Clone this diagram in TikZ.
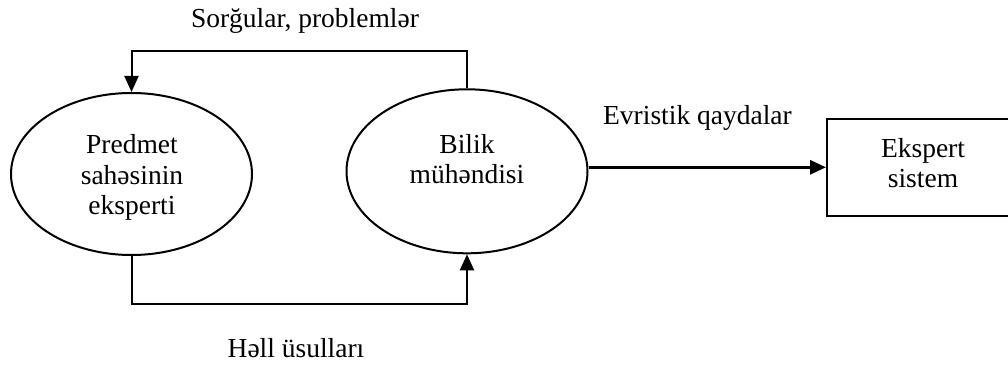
\documentclass[tikz,border=0pt]{standalone}
\usepackage{fontspec}
\setmainfont{Liberation Serif}
\usetikzlibrary{arrows.meta,shapes.geometric}
\begin{document}
\begin{tikzpicture}[x=0.5pt,y=-0.5pt,
  every node/.style={font=\fontsize{13.75pt}{15.25pt}\selectfont},
  oval/.style={ellipse,draw,line width=1pt,inner sep=0pt,minimum width=120.5pt},
  box/.style={rectangle,draw,line width=1pt,inner sep=0pt,minimum width=94pt,minimum height=48.5pt},
  txt/.style={align=center,inner sep=0pt},
  lbl/.style={anchor=base,inner sep=0pt},
  link/.style={line width=1pt},
  arr/.style={line width=1pt,-{Triangle[length=8pt,width=7pt]}}]
\useasboundingbox (0,0) rectangle (1008,369);
% shapes
\node[oval,minimum height=81pt] (e1) at (131.5,174) {};
\node[oval,minimum height=82pt] (e2) at (467,171.3) {};
\node[box] (es) at (921,167.3) {};
% texts
\node[txt] (t1) at (132,177.6) {Predmet\\sahəsinin\\eksperti};
\node[txt] (t2) at (467,159.3) {Bilik\\mühəndisi};
\node[txt] (t3) at (923,163) {Ekspert\\sistem};
\node[lbl] (l1) at (305,27.3) {Sorğular, problemlər};
\node[lbl] (l2) at (697.5,125) {Evristik qaydalar};
\node[lbl] (l3) at (296,357.3) {Həll üsulları};
% connectors
\draw[arr] (e2.north) -- ++(0,-37) -| (e1.north);
\draw[arr] (e1.south) -- ++(0,48) -| (e2.south);
\draw[arr,line width=1.5pt] (e2.east |- es.west) -- (es.west);
\end{tikzpicture}
\end{document}
